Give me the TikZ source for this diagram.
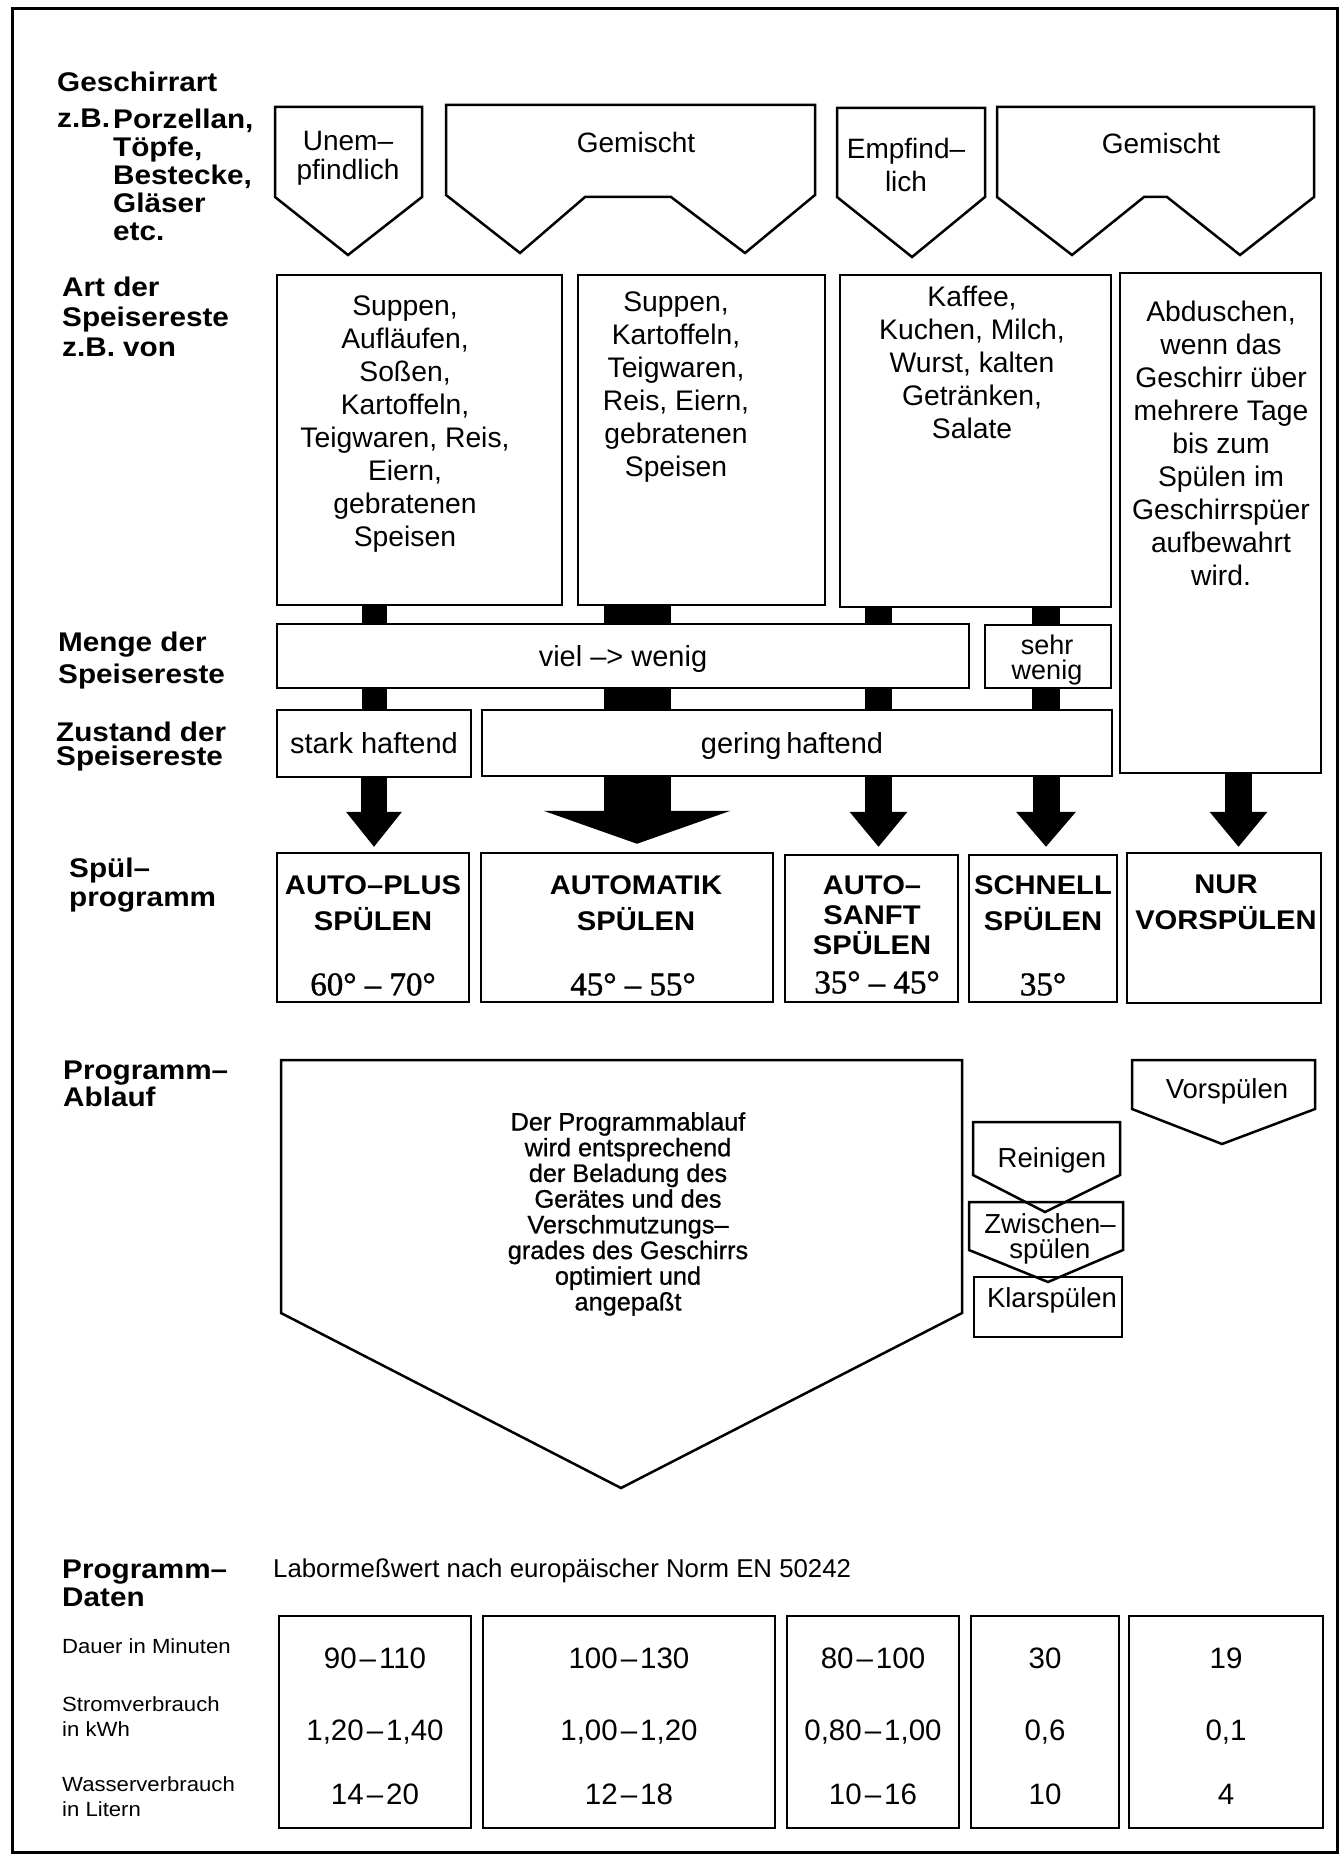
\documentclass[tikz,border=0pt]{standalone}
\usepackage{fontspec}
\setmainfont{Liberation Sans}
\newfontfamily\lblfont[FakeStretch=1.1]{Liberation Sans}
\newfontfamily\pgmfont[FakeStretch=1.08]{Liberation Sans}
\newfontfamily\smfont[FakeStretch=1.08]{Liberation Sans}
\newfontfamily\ablfont[FakeBold=0.8]{Liberation Sans}
\newfontfamily\tempfont[FakeBold=1.2]{Liberation Serif}
\usetikzlibrary{arrows.meta,fit}
\newcommand\mydash{\kern3pt–\kern3pt}
\begin{document}
\begin{tikzpicture}[x=1pt,y=-1pt,line join=miter,
  bx/.style={draw,line width=2.5pt,inner sep=0pt},
  shp/.style={draw,line width=2.5pt},
  lbl/.style={inner sep=0pt,anchor=north west,align=left,font=\lblfont\bfseries\fontsize{27}{#1}\selectfont},
  lbl/.default=28,
  one/.style={inner sep=0pt,text height=#1,text depth=0pt,anchor=center},
  one/.default=20pt,
  multi/.style={inner sep=0pt,anchor=north,align=center},
  f/.style 2 args={font=\fontsize{#1}{#2}\selectfont},
  pgm/.style={multi,font=\pgmfont\bfseries\fontsize{27}{#1}\selectfont},
  tmp/.style={one=22.5pt,font=\tempfont\fontsize{33}{36}\selectfont},
  sm/.style={inner sep=0pt,anchor=north west,align=left,font=\smfont\fontsize{20.5}{25}\selectfont},
  colbar/.style={line width=#1pt},
  fatarrow/.style n args={3}{line width=#1pt,-{Triangle[width=#2pt,length=#3pt,line width=0pt]}}
]
\useasboundingbox (0,0) rectangle (1340,1859);
\fill[white] (0,0) rectangle (1340,1859);
% outer frame
\draw[line width=3pt] (12,9) rectangle (1337,1852);

% ---------- left labels ----------
\node[lbl] (lGesch) at (57,72) {Geschirrart};
\node[lbl] (lzb) at (57,109) {z.B.};
\node[lbl] (lporz) at (113,109) {Porzellan,\\Töpfe,\\Bestecke,\\Gläser\\etc.};
\node[lbl=30] (lart) at (62,277) {Art der\\Speisereste\\z.B. von};
\node[lbl=32] (lmenge) at (58,632) {Menge der\\Speisereste};
\node[lbl=24] (lzust) at (56,722) {Zustand der\\Speisereste};
\node[lbl=29] (lspuel) at (69,858) {Spül–\\programm};
\node[lbl=25] (lablauf) at (63,1061) {Programm–\\Ablauf};
\node[lbl=28] (ldaten) at (62,1560) {Programm–\\Daten};

% ---------- Geschirrart shapes ----------
\draw[shp] (275,107) -- (422,107) -- (422,197) -- (348,255) -- (275,197) -- cycle;
\draw[shp] (446,105) -- (815,105) -- (815,195) -- (745,253) -- (671,197) -- (585,197) -- (520,253) -- (446,195) -- cycle;
\draw[shp] (837,108) -- (985,108) -- (985,197) -- (912,257) -- (837,197) -- cycle;
\draw[shp] (997,107) -- (1314,107) -- (1314,197) -- (1240,255) -- (1167,197) -- (1144,197) -- (1072,255) -- (997,197) -- cycle;
\node[multi,f={28}{29}] (tunem) at (348,131) {Unem–\\pfindlich};
\node[one,f={28}{30}] (tgem1) at (636,143) {Gemischt};
\node[multi,f={28}{33}] (tempf) at (906,138) {Empfind–\\lich};
\node[one,f={28}{30}] (tgem2) at (1161,144) {Gemischt};

% ---------- Speisereste boxes ----------
\node[bx,fit={(277,275) (562,605)}] (b1) {};
\node[bx,fit={(578,275) (825,605)}] (b2) {};
\node[bx,fit={(840,275) (1111,607)}] (b3) {};
\node[bx,fit={(1120,273) (1321,773)}] (b4) {};
\node[multi,f={28.3}{33}] (t1) at (405,296) {Suppen,\\Aufläufen,\\Soßen,\\Kartoffeln,\\Teigwaren, Reis,\\Eiern,\\gebratenen\\Speisen};
\node[multi,f={28.3}{33}] (t2) at (676,292) {Suppen,\\Kartoffeln,\\Teigwaren,\\Reis, Eiern,\\gebratenen\\Speisen};
\node[multi,f={28.3}{33}] (t3) at (972,286) {Kaffee,\\Kuchen, Milch,\\Wurst, kalten\\Getränken,\\Salate};
\node[multi,f={28.3}{33}] (t4) at (1221,301) {Abduschen,\\wenn das\\Geschirr über\\mehrere Tage\\bis zum\\Spülen im\\Geschirrspüer\\aufbewahrt\\wird.};

% ---------- Menge / Zustand ----------
\node[bx,fit={(277,624) (969,688)}] (m1) {};
\node[bx,fit={(985,625) (1111,688)}] (m2) {};
\node[bx,fit={(277,710) (471,777)}] (z1) {};
\node[bx,fit={(482,710) (1112,776)}] (z2) {};
\node[one=21pt,f={29}{30}] (tviel) at (623,656) {viel –> wenig};
\node[multi,f={27}{25}] (tsehr) at (1047,635) {sehr\\wenig};
\node[one=21pt,f={29}{30}] (tstark) at (374,743) {stark haftend};
\node[one=21pt,f={29}{30}] (tgering) at (792,743) {gering\,haftend};

% ---------- program boxes ----------
\node[bx,fit={(277,853) (469,1002)}] (pr1) {};
\node[bx,fit={(481,853) (773,1002)}] (pr2) {};
\node[bx,fit={(785,855) (958,1002)}] (pr3) {};
\node[bx,fit={(969,855) (1117,1002)}] (pr4) {};
\node[bx,fit={(1127,853) (1321,1003)}] (pr5) {};
\node[pgm=36] (p1) at (373,875) {AUTO–PLUS\\SPÜLEN};
\node[pgm=36] (p2) at (636,875) {AUTOMATIK\\SPÜLEN};
\node[pgm=30] (p3) at (872,875) {AUTO–\\SANFT\\SPÜLEN};
\node[pgm=36] (p4) at (1043,875) {SCHNELL\\SPÜLEN};
\node[pgm=36] (p5) at (1226,875) {NUR\\VORSPÜLEN};
\node[tmp] (d1) at (373,984) {60° – 70°};
\node[tmp] (d2) at (633,984) {45° – 55°};
\node[tmp] (d3) at (877,982) {35° – 45°};
\node[tmp] (d4) at (1043,984) {35°};

% ---------- column bars and arrows ----------
\coordinate (c1) at (374,0);
\coordinate (c2) at (637,0);
\coordinate (c3) at (878.5,0);
\coordinate (c4) at (1046,0);
\coordinate (c5) at (1238.5,0);
\draw[colbar=25] (b1.south -| c1) -- (m1.north -| c1);
\draw[colbar=25] (m1.south -| c1) -- (z1.north -| c1);
\draw[colbar=67] (b2.south -| c2) -- (m1.north -| c2);
\draw[colbar=67] (m1.south -| c2) -- (z2.north -| c2);
\draw[colbar=27] (b3.south -| c3) -- (m1.north -| c3);
\draw[colbar=27] (m1.south -| c3) -- (z2.north -| c3);
\draw[colbar=28] (b3.south -| c4) -- (m2.north -| c4);
\draw[colbar=28] (m2.south -| c4) -- (z2.north -| c4);
\draw[fatarrow={26}{56}{35},shorten >=5pt] (z1.south -| c1) -- (pr1.north -| c1);
\draw[fatarrow={67}{187}{33},shorten >=8pt] (z2.south -| c2) -- (pr2.north -| c2);
\draw[fatarrow={27}{58}{35},shorten >=7pt] (z2.south -| c3) -- (pr3.north -| c3);
\draw[fatarrow={27}{60}{35},shorten >=7pt] (z2.south -| c4) -- (pr4.north -| c4);
\draw[fatarrow={27}{58}{35},shorten >=5pt] (b4.south -| c5) -- (pr5.north -| c5);

% ---------- Programmablauf ----------
\draw[shp] (281,1060) -- (962,1060) -- (962,1313) -- (621,1488) -- (281,1313) -- cycle;
\node[multi,font=\ablfont\fontsize{25.3}{25.7}\selectfont] (tabl) at (628,1112) {Der Programmablauf\\wird entsprechend\\der Beladung des\\Gerätes und des\\Verschmutzungs–\\grades des Geschirrs\\optimiert und\\angepaßt};
\draw[shp] (1132,1060) -- (1315,1060) -- (1315,1109) -- (1222,1144) -- (1132,1109) -- cycle;
\draw[shp] (973,1122) -- (1120,1122) -- (1120,1175) -- (1045,1212) -- (973,1175) -- cycle;
\draw[shp] (969,1202) -- (1123,1202) -- (1123,1250) -- (1048,1282) -- (969,1250) -- cycle;
\draw[shp] (974,1277) rectangle (1122,1337);
\node[one,f={27.5}{28}] (tvor) at (1227,1088) {Vorspülen};
\node[one,f={27.5}{28}] (trein) at (1052,1157) {Reinigen};
\node[multi,f={27.5}{25}] (tzw) at (1050,1213) {Zwischen–\\spülen};
\node[one,f={27.5}{28}] (tklar) at (1052,1297) {Klarspülen};

% ---------- Programm-Daten ----------
\node[one=18.5pt,anchor=west,f={25.8}{28}] (tlabor) at (273,1568) {Labormeßwert nach europäischer Norm EN 50242};
\node[sm,anchor=west,text height=14.7pt,text depth=0pt] (sdauer) at (62,1646) {Dauer in Minuten};
\node[sm] (sstrom) at (62,1696) {Stromverbrauch\\in kWh};
\node[sm] (swasser) at (62,1776) {Wasserverbrauch\\in Litern};
\node[bx,fit={(279,1616) (471,1828)}] (d1box) {};
\node[bx,fit={(483,1616) (775,1828)}] (d2box) {};
\node[bx,fit={(787,1616) (959,1828)}] (d3box) {};
\node[bx,fit={(971,1616) (1119,1828)}] (d4box) {};
\node[bx,fit={(1129,1616) (1323,1828)}] (d5box) {};
\tikzset{val/.style={one=21pt,f={29.5}{30}}}
\node[val] (v1a) at (375,1658) {90\mydash110};
\node[val] (v1b) at (375,1730) {1,20\mydash1,40};
\node[val] (v1c) at (375,1794) {14\mydash20};
\node[val] (v2a) at (629,1658) {100\mydash130};
\node[val] (v2b) at (629,1730) {1,00\mydash1,20};
\node[val] (v2c) at (629,1794) {12\mydash18};
\node[val] (v3a) at (873,1658) {80\mydash100};
\node[val] (v3b) at (873,1730) {0,80\mydash1,00};
\node[val] (v3c) at (873,1794) {10\mydash16};
\node[val] (v4a) at (1045,1658) {30};
\node[val] (v4b) at (1045,1730) {0,6};
\node[val] (v4c) at (1045,1794) {10};
\node[val] (v5a) at (1226,1658) {19};
\node[val] (v5b) at (1226,1730) {0,1};
\node[val] (v5c) at (1226,1794) {4};
\end{tikzpicture}
\end{document}
